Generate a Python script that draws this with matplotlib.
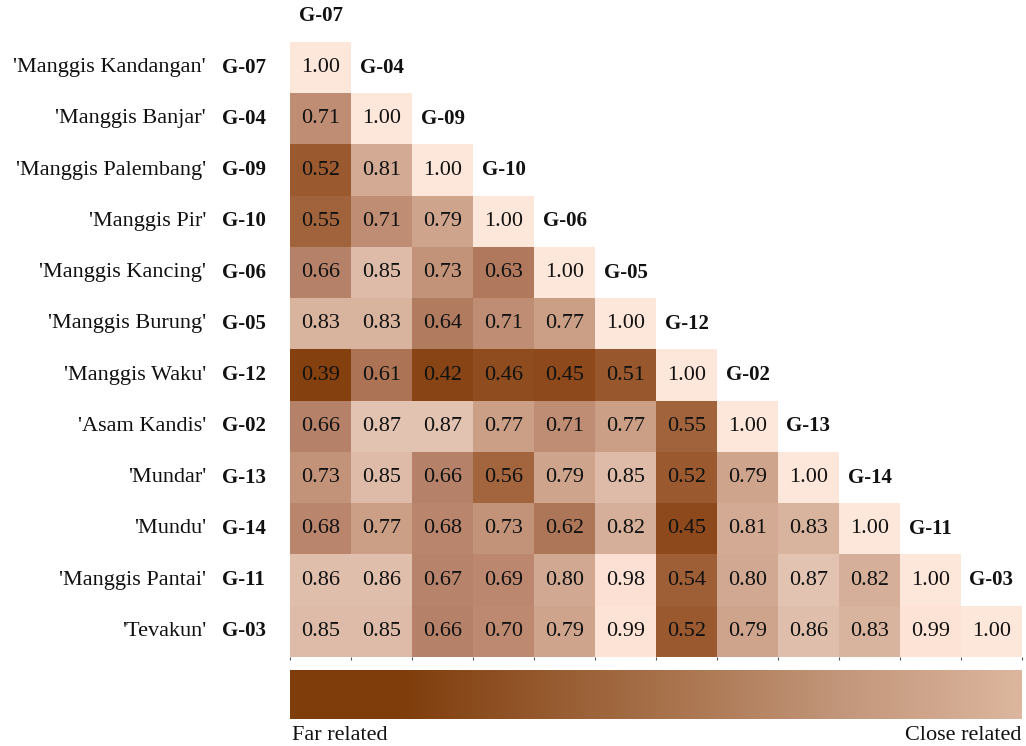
import numpy as np
import matplotlib
matplotlib.use("Agg")
import matplotlib.pyplot as plt
from matplotlib.colors import LinearSegmentedColormap

codes = ["G-07", "G-04", "G-09", "G-10", "G-06", "G-05", "G-12", "G-02", "G-13", "G-14", "G-11", "G-03"]
names = ["'Manggis Kandangan'", "'Manggis Banjar'", "'Manggis Palembang'", "'Manggis Pir'",
         "'Manggis Kancing'", "'Manggis Burung'", "'Manggis Waku'", "'Asam Kandis'",
         "'Mundar'", "'Mundu'", "'Manggis Pantai'", "'Tevakun'"]
rows = [
    [1.00],
    [0.71, 1.00],
    [0.52, 0.81, 1.00],
    [0.55, 0.71, 0.79, 1.00],
    [0.66, 0.85, 0.73, 0.63, 1.00],
    [0.83, 0.83, 0.64, 0.71, 0.77, 1.00],
    [0.39, 0.61, 0.42, 0.46, 0.45, 0.51, 1.00],
    [0.66, 0.87, 0.87, 0.77, 0.71, 0.77, 0.55, 1.00],
    [0.73, 0.85, 0.66, 0.56, 0.79, 0.85, 0.52, 0.79, 1.00],
    [0.68, 0.77, 0.68, 0.73, 0.62, 0.82, 0.45, 0.81, 0.83, 1.00],
    [0.86, 0.86, 0.67, 0.69, 0.80, 0.98, 0.54, 0.80, 0.87, 0.82, 1.00],
    [0.85, 0.85, 0.66, 0.70, 0.79, 0.99, 0.52, 0.79, 0.86, 0.83, 0.99, 1.00],
]

n = len(codes)
M = np.full((n, n), np.nan)
for i, r in enumerate(rows):
    M[i, :len(r)] = r
Mm = np.ma.masked_invalid(M)

vmin, vmax = 0.39, 1.00
stops = [(0.39, "#84400f"), (0.45, "#8e4a1c"), (0.52, "#9b5a30"), (0.56, "#a3663f"),
         (0.66, "#b68169"), (0.71, "#bf8d73"), (0.77, "#cb9e86"), (0.81, "#d3ab95"),
         (0.87, "#e2c3b1"), (0.98, "#fbe0d3"), (1.00, "#fde6da")]
cmap = LinearSegmentedColormap.from_list(
    "brown", [((v - vmin) / (vmax - vmin), c) for v, c in stops])

W, H = 1026, 746
fig = plt.figure(figsize=(W / 100, H / 100), dpi=100)
serif = ["Liberation Serif", "DejaVu Serif"]

x0, x1 = 290, 1022
y_top, y_bot = 42, 657
ax = fig.add_axes([x0 / W, (H - y_bot) / H, (x1 - x0) / W, (y_bot - y_top) / H])
ax.imshow(Mm, cmap=cmap, vmin=vmin, vmax=vmax, aspect="auto", interpolation="nearest")
ax.set_xlim(-0.5, n - 0.5)
ax.set_ylim(n - 0.5, -0.5)
for s in ax.spines.values():
    s.set_visible(False)
ax.set_yticks([])
ax.set_xticks(np.arange(-0.5, n, 1.0))
ax.set_xticklabels([])
ax.tick_params(axis="x", length=2, width=0.8, color="#555555")

cw = (x1 - x0) / n
for i in range(n):
    for j in range(i + 1):
        ax.text(j, i, f"{M[i, j]:.2f}", ha="center", va="center", fontsize=16,
                family=serif, color="#111111")
    # column header
    ax.text(i, i - 1, codes[i], ha="center", va="center", fontsize=15,
            family=serif, fontweight="bold", color="#111111", clip_on=False)
    # row labels
    ax.text(-0.5 - (x0 - 222) / cw, i, codes[i], ha="left", va="center", fontsize=15,
            family=serif, fontweight="bold", color="#111111", clip_on=False)
    ax.text(-0.5 - (x0 - 206) / cw, i, names[i], ha="right", va="center", fontsize=16,
            family=serif, color="#111111", clip_on=False)

# colour bar
cb_stops = [(0.0, "#7f3d0c"), (0.16, "#803e0d"), (0.35, "#965a2f"),
            (0.55, "#ac7752"), (0.75, "#c2967a"), (1.0, "#dcb69e")]
cb_cmap = LinearSegmentedColormap.from_list("cb", cb_stops)
cax = fig.add_axes([x0 / W, (H - 719) / H, (x1 - x0) / W, 49 / H])
cax.imshow(np.linspace(0, 1, 512)[None, :], cmap=cb_cmap, aspect="auto",
           extent=(0, 1, 0, 1))
cax.set_axis_off()
fig.text(292 / W, (H - 735) / H, "Far related", ha="left", va="center",
         fontsize=16, family=serif, color="#111111")
fig.text(1021 / W, (H - 735) / H, "Close related", ha="right", va="center",
         fontsize=16, family=serif, color="#111111")

fig.savefig("out.png", dpi=100, facecolor="white")
